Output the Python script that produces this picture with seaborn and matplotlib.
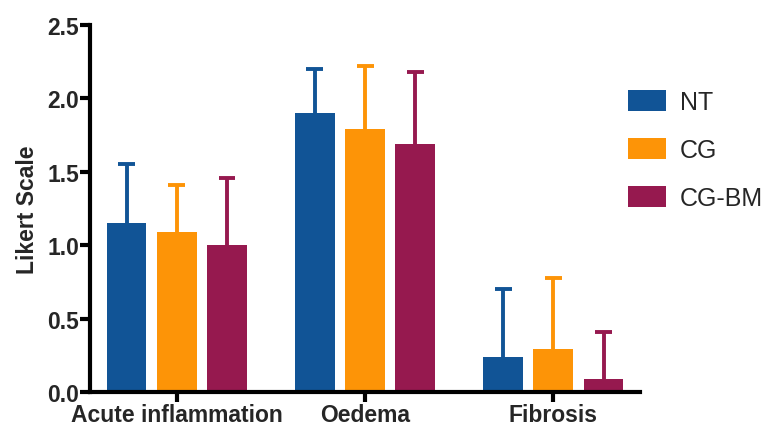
import matplotlib
matplotlib.use("Agg")
import matplotlib.pyplot as plt
import seaborn as sns
import pandas as pd
import numpy as np
from matplotlib.patches import Patch

categories = ["Acute inflammation", "Oedema", "Fibrosis"]
groups = ["NT", "CG", "CG-BM"]
means = {
    "NT": [1.15, 1.90, 0.24],
    "CG": [1.09, 1.79, 0.29],
    "CG-BM": [1.00, 1.69, 0.09],
}
upper = {
    "NT": [1.55, 2.20, 0.70],
    "CG": [1.41, 2.22, 0.78],
    "CG-BM": [1.46, 2.18, 0.41],
}
colors = ["#115496", "#FD9407", "#96194F"]
yticks = [0.0, 0.5, 1.0, 1.5, 2.0, 2.5]

rows = []
for g in groups:
    for c, m, u in zip(categories, means[g], upper[g]):
        rows.append({"Category": c, "Group": g, "Mean": m, "Upper": u})
df = pd.DataFrame(rows)

sns.set_style("ticks")
plt.rcParams["font.family"] = ["Liberation Sans", "DejaVu Sans"]

fig = plt.figure(figsize=(7.71, 4.31), dpi=100)
ax = fig.add_axes([0.117, 0.088, 0.713, 0.852])

sns.barplot(data=df, x="Category", y="Mean", hue="Group", order=categories,
            hue_order=groups, palette=colors, errorbar=None, gap=0.21,
            saturation=1, linewidth=0, ax=ax, zorder=2, legend=False)

# one-sided (upper) error bars
cap_half = 0.045
for gi, g in enumerate(groups):
    cont = ax.containers[gi]
    for bar, m, u in zip(cont, means[g], upper[g]):
        xc = bar.get_x() + bar.get_width() / 2
        ax.vlines(xc, m, u, color=colors[gi], linewidth=2.8, zorder=1)
        ax.hlines(u, xc - cap_half, xc + cap_half, color=colors[gi],
                  linewidth=2.8, zorder=1)

ax.set_ylim(0, 2.5)
ax.set_xlim(-0.46, 2.46)
ax.set_yticks(yticks)
ax.set_yticklabels([f"{t:.1f}" for t in yticks], fontweight="bold", fontsize=16.5)
ax.set_xticks(range(len(categories)))
ax.set_xticklabels(categories, fontweight="bold", fontsize=16.5)
ax.set_xlabel("")
ax.set_ylabel("Likert Scale", fontweight="bold", fontsize=16.5, labelpad=6)
for s in ["top", "right"]:
    ax.spines[s].set_visible(False)
for s in ["left", "bottom"]:
    ax.spines[s].set_linewidth(3)
    ax.spines[s].set_color("black")
    ax.spines[s].set_capstyle("projecting")
ax.tick_params(axis="both", width=3, length=7, color="black", pad=1)

handles = [Patch(facecolor=c, edgecolor="none", label=g) for g, c in zip(groups, colors)]
fig.legend(handles=handles, loc="upper left", bbox_to_anchor=(0.814, 0.79),
           frameon=False, fontsize=18, handlelength=1.55, handleheight=0.95,
           labelspacing=0.95, handletextpad=0.55, borderaxespad=0, borderpad=0)

fig.savefig("out.png", dpi=100)
